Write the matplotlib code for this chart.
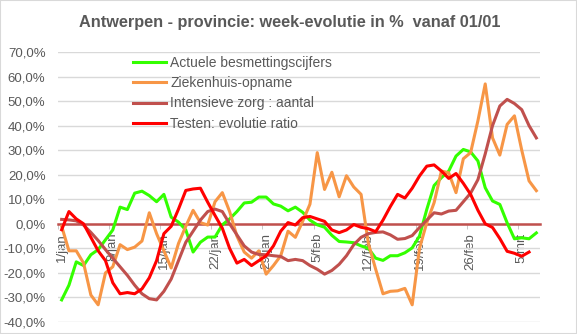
import numpy as np
import matplotlib
matplotlib.use("Agg")
from matplotlib import pyplot as plt
from matplotlib.patches import Rectangle

plt.rcParams['font.family'] = ['Liberation Sans', 'DejaVu Sans']

# week-evolutie in % per dag, 1/jan .. 7/mrt
besmettingen = [-31, -25, -15.5, -17, -12.6, -10.5, -6.5, -2.5, 6.8, 5.8,
                12.5, 13.3, 11.5, 9, 12, 2.7, 0.7, -2.5, -11.5, -7.5,
                -5.4, -5.4, -0.4, 2, 5, 8.5, 8.8, 10.9, 10.9, 8.1,
                7.2, 5.3, 6.8, 4.7, 1.5, -0.4, -1.4, -4.7, -7.2, -7.4,
                -7.7, -9, -10, -14, -14.9, -13, -13, -11.8, -9.8, -5,
                5.9, 15.6, 18.8, 21.5, 27.6, 30.3, 29.3, 25.6, 14.7, 9.3,
                7.9, 0.4, -6.1, -5.7, -6.1, -3.7]
ziekenhuis = [-1, -11, -11, -16, -29, -33, -20, -17.5, -8.5, -10.5,
              -9.5, -7, 4.5, -4, -11, -18, -8, -1, 5.5, 0.5,
              -0.5, 9, 12.7, 5, -5, -11.5, -14, -11, -20.5, -17,
              -13, -3, -5.5, 1, 8, 29, 14, 21, 11, 19.6,
              15, 12, -8, -18.5, -28.5, -27.5, -27.3, -26.3, -33, -10,
              0.5, 8.6, 21.5, 20.8, 12.7, 26.5, 29, 42, 57, 35,
              28, 40.5, 44, 30, 17.5, 13.5]
intensieve = [1.8, 1.6, 1.2, -0.5, -3.5, -6.8, -10.5, -14, -17.5, -21,
              -25, -28.5, -30.5, -31, -27.5, -22.5, -15, -7.5, -3, 1.5,
              5, 6, 5, 0, -4.5, -9, -11.5, -12.5, -12.6, -13,
              -13.3, -15, -14.5, -15, -17, -18.5, -20.5, -19, -16.5, -13,
              -8.5, -5.5, -4, -3.5, -3.3, -4.5, -6.3, -6, -4.8, -1.5,
              1.5, 4.5, 4, 5.2, 5.5, 9, 12.5, 18, 28.5, 40,
              48, 50.7, 49, 46.5, 40, 35]
testen = [-2.4, 5, 2, 0, -5.5, -11, -15, -24, -28.5, -28,
          -28.5, -26.5, -22, -15, -4, -1, 6, 13.6, 14.2, 14.5,
          8.8, 3.4, -1.8, -10, -16, -14.5, -17, -15, -13, -9,
          -3, 0.5, -0.5, 2.5, 3, 2, 1, -2.5, -3.6, -2.5,
          -0.3, -1.4, -2, -3.2, 1.5, 7, 12, 10.5, 14.5, 19.5,
          23.5, 24, 21.5, 18.5, 20.5, 16.5, 12, 5.5, 0, -1.5,
          -6, -11.2, -12, -13.2, -11.5, np.nan]

tick_days = [0, 7, 14, 21, 28, 35, 42, 49, 56, 63]
tick_labels = ['1/jan', '8/jan', '15/jan', '22/jan', '29/jan',
               '5/feb', '12/feb', '19/feb', '26/feb', '5/mrt']

grey = '#595959'
fig = plt.figure(figsize=(5.77, 3.34), dpi=100)
ax = fig.add_axes([58/577, 1 - 322/334, (540 - 58)/577, (322 - 52)/334])

x = np.arange(len(besmettingen))
ax.plot(x, besmettingen, color='#33FF00', lw=2.2, label='Actuele besmettingscijfers', zorder=3)
ax.plot(x, ziekenhuis, color='#F79646', lw=2.2, label='Ziekenhuis-opname', zorder=3)
ax.plot(x, intensieve, color='#C0504D', lw=2.2, label='Intensieve zorg : aantal', zorder=3)
ax.plot(x, testen, color='#FF0000', lw=2.2, label='Testen: evolutie ratio', zorder=3)

ax.set_xlim(-0.5, len(besmettingen) - 0.5)
ax.set_ylim(-40, 70)
ax.set_yticks(np.arange(-40, 71, 10))
ax.set_yticklabels([('%.1f%%' % v).replace('.', ',') for v in range(-40, 71, 10)])
ax.grid(axis='y', color='#D9D9D9', lw=1)
ax.set_axisbelow(True)
for s in ['top', 'right', 'left']:
    ax.spines[s].set_visible(False)
ax.spines['bottom'].set_position(('data', 0))
ax.spines['bottom'].set_color('#C0504D')
ax.spines['bottom'].set_linewidth(1.8)
ax.spines['bottom'].set_zorder(2)

ax.set_xticks(tick_days)
ax.set_xticklabels(tick_labels, rotation=90, va='top', ha='center')
ax.set_xticks([d - 0.5 for d in tick_days], minor=True)
ax.tick_params(axis='x', which='major', length=0, pad=6.5, labelsize=9.5, labelcolor=grey)
ax.tick_params(axis='x', which='minor', length=3.5, color='#BFBFBF', direction='out')
ax.tick_params(axis='y', length=0, pad=9, labelsize=9.5, labelcolor=grey)

fig.legend(loc='upper left', bbox_to_anchor=(133/577, 1 - 56/334), frameon=False,
           fontsize=10, handlelength=2.4, handletextpad=0.3, labelspacing=0.45,
           borderpad=0, borderaxespad=0, labelcolor=grey)

fig.text(0.502, 1 - 23/334, 'Antwerpen - provincie: week-evolutie in %  vanaf 01/01',
         ha='center', va='center', fontsize=11.7, fontweight='bold', color=grey)

fig.patches.append(Rectangle((0, 0), 1, 1, transform=fig.transFigure, fill=False,
                             edgecolor='#D9D9D9', lw=1.5))

fig.savefig('out.png', dpi=100)
